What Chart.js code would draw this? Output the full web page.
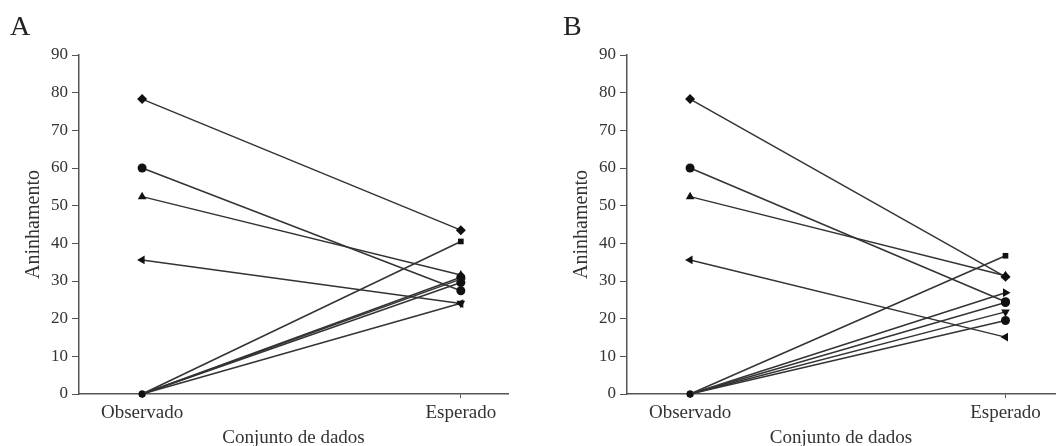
<!DOCTYPE html>
<html>
<head>
<meta charset="utf-8">
<script src="https://cdn.jsdelivr.net/npm/chart.js@4.4.0/dist/chart.umd.min.js"></script>
<style>
  html, body { margin: 0; padding: 0; background: #fff; overflow: hidden; }
  #wrap { position: relative; width: 1060px; height: 446px; }
  .panel { position: absolute; top: 0; height: 446px; }
  .tag { position: absolute; top: 10px; font: 28px "Liberation Serif", serif; color: #222; }
</style>
</head>
<body>
<div id="wrap">
  <div class="panel" style="left:0;width:530px"><canvas id="chartA"></canvas></div>
  <div class="panel" style="left:548px;width:512px"><canvas id="chartB"></canvas></div>
  <div class="tag" style="left:10px">A</div>
  <div class="tag" style="left:563px">B</div>
</div>
<script>
// categories on the x axis
var categories = ['Observado', 'Esperado'];
var yTicks = [0, 10, 20, 30, 40, 50, 60, 70, 80, 90];

// one entry per series (same order in both panels)
var observado = [78.3, 60, 52.4, 35.6, 0, 0, 0, 0, 0];
var esperadoA = [43.5, 27.4, 31.6, 24.0, 40.5, 30.5, 31.0, 24.1, 29.6];
var esperadoB = [31.1, 24.5, 31.4, 15.1, 36.7, 26.9, 24.3, 21.8, 19.5];

// marker shapes
var shapes = ['rectRot', 'circle', 'triangle', 'triangle', 'rect', 'triangle', 'circle', 'triangle', 'circle'];
var rotations = [0, 0, 0, -90, 0, 90, 0, 180, 0];
var radii = [5, 4.5, 5, 5, 4, 5, 4.5, 5, 4.5];

var serif = '"Liberation Serif", "Times New Roman", serif';
var ink = '#333';

function buildDatasets(esperado) {
    var sets = [];
    for (var i = 0; i < observado.length; i++) {
        sets.push({
            data: [{ x: 0, y: observado[i] }, { x: 1, y: esperado[i] }],
            borderColor: '#333',
            borderWidth: 1.5,
            backgroundColor: '#111',
            pointBackgroundColor: '#111',
            pointBorderColor: '#111',
            pointBorderWidth: 0,
            pointStyle: shapes[i],
            rotation: rotations[i],
            pointRadius: observado[i] === 0 ? [3.5, radii[i]] : radii[i],
            clip: false
        });
    }
    return sets;
}

function makeChart(id, esperado, xMin, xMax, padRight) {
    return new Chart(document.getElementById(id), {
        type: 'line',
        data: { datasets: buildDatasets(esperado) },
        options: {
            responsive: true,
            maintainAspectRatio: false,
            animation: false,
            layout: { padding: { top: 55, right: padRight, left: 0, bottom: 0 } },
            plugins: { legend: { display: false }, tooltip: { enabled: false } },
            scales: {
                x: {
                    type: 'linear',
                    min: xMin,
                    max: xMax,
                    afterBuildTicks: function (scale) {
                        scale.ticks = [{ value: 0 }, { value: 1 }];
                    },
                    afterFit: function (scale) { scale.height = 52; },
                    ticks: {
                        autoSkip: false,
                        maxRotation: 0,
                        padding: 4,
                        color: ink,
                        font: { family: serif, size: 19 },
                        callback: function (v) { return categories[v]; }
                    },
                    grid: { drawOnChartArea: false, drawTicks: true, tickLength: 4, color: '#555' },
                    border: { color: '#555', width: 1.5 },
                    title: {
                        display: true,
                        text: 'Conjunto de dados',
                        color: ink,
                        padding: { top: 4, bottom: -3 },
                        font: { family: serif, size: 19 }
                    }
                },
                y: {
                    min: 0,
                    max: 90,
                    afterBuildTicks: function (scale) {
                        scale.ticks = yTicks.map(function (v) { return { value: v }; });
                    },
                    afterFit: function (scale) { scale.width = 79; },
                    ticks: {
                        padding: 4,
                        color: ink,
                        font: { family: serif, size: 17 }
                    },
                    grid: { drawOnChartArea: false, drawTicks: true, tickLength: 7, color: '#555' },
                    border: { color: '#555', width: 1.5 },
                    title: {
                        display: true,
                        text: 'Aninhamento',
                        color: ink,
                        padding: { top: 22, bottom: 2 },
                        font: { family: serif, size: 20 }
                    }
                }
            }
        }
    });
}

makeChart('chartA', esperadoA, -0.198, 1.148, 22);
makeChart('chartB', esperadoB, -0.2, 1.157, 0);
</script>
</body>
</html>
